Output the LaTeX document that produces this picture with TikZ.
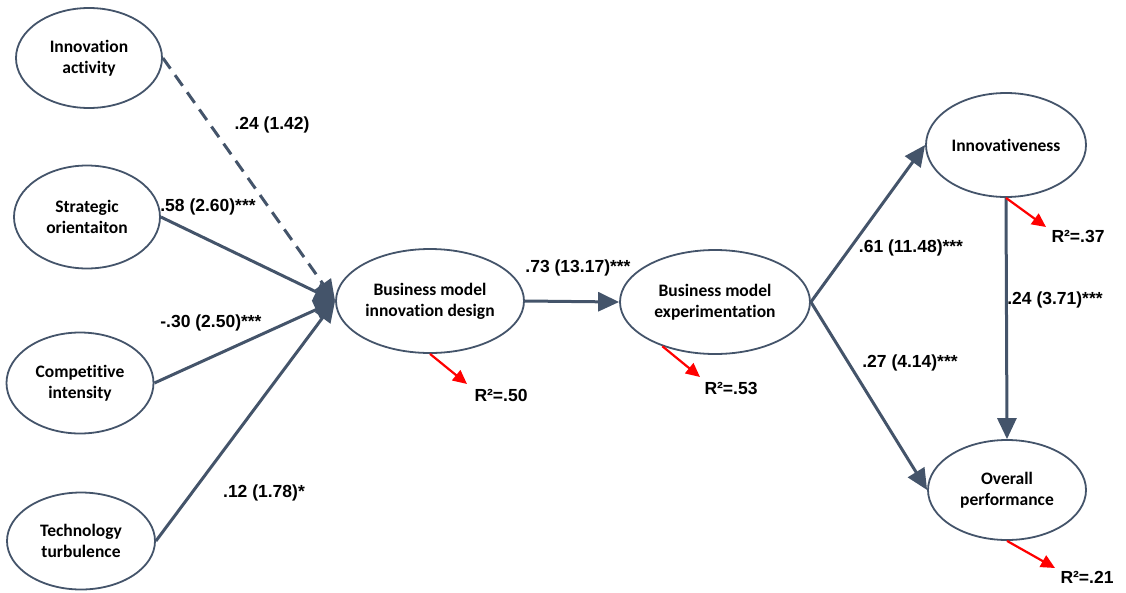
\documentclass[tikz,border=0pt]{standalone}
\usepackage{fontspec}
\setmainfont{Carlito}[Ligatures={NoCommon}]
\newfontfamily\arialf{Liberation Sans}
\usetikzlibrary{shapes.geometric,arrows.meta}
\definecolor{slate}{HTML}{44546A}
\begin{document}
\begin{tikzpicture}[x=1pt,y=-1pt,
  latent/.style={ellipse,draw=slate,line width=1.8pt,fill=white,inner sep=0pt,
    align=center,font=\fontsize{17.5}{21}\selectfont\bfseries},
  path/.style={draw=slate,line width=3pt,-{Triangle[length=21pt,width=19pt]}},
  coef/.style={font=\arialf\fontsize{17.5}{20}\selectfont\bfseries,inner sep=0pt},
  rsq/.style={draw=red,line width=2.2pt,-{Triangle[length=14pt,width=13pt]}}]
\useasboundingbox (0,0) rectangle (1126,592);
% nodes
\node[latent,minimum width=146pt,minimum height=100pt] (ia) at (89,58) {Innovation\\activity};
\node[latent,minimum width=146pt,minimum height=103pt] (so) at (87,217) {Strategic\\orientaiton};
\node[latent,minimum width=147pt,minimum height=101pt] (ci) at (80,383) {Competitive\\intensity};
\node[latent,minimum width=148pt,minimum height=97pt] (tt) at (81,541) {Technology\\turbulence};
\node[latent,minimum width=188pt,minimum height=104pt] (bmid) at (430,301) {Business model\\innovation design};
\node[latent,minimum width=190pt,minimum height=104pt] (bme) at (715,302) {Business model\\experimentation};
\node[latent,minimum width=160pt,minimum height=104pt] (inn) at (1006,145) {Innovativeness};
\node[latent,minimum width=158pt,minimum height=100pt] (op) at (1007,490) {Overall\\performance};
% coefficient labels
\node[coef] (l1) at (272,125) {.24 (1.42)};
\node[coef] (l2) at (208,207) {.58 (2.60)***};
\node[coef] (l3) at (211,323) {-.30 (2.50)***};
\node[coef] (l4) at (264,493) {.12 (1.78)*};
\node[coef] (l5) at (578,268) {.73 (13.17)***};
\node[coef] (l6) at (911,248) {.61 (11.48)***};
\node[coef] (l7) at (1055,300) {.24 (3.71)***};
\node[coef] (l8) at (910,363) {.27 (4.14)***};
% R squared labels
\node[coef] (r1) at (501,395) {R²=.50};
\node[coef] (r2) at (731,388) {R²=.53};
\node[coef] (r3) at (1078,236) {R²=.37};
\node[coef] (r4) at (1087,577) {R²=.21};
\coordinate (t1) at (467,384);
\coordinate (t2) at (700,377);
\coordinate (t3) at (1046,227);
\coordinate (t4) at (1055,568);
% paths
\draw[path,dash pattern=on 13pt off 8pt] (ia.east) -- (bmid.west);
\draw[path] (so.east) -- (bmid.west);
\draw[path] (ci.east) -- (bmid.west);
\draw[path] (tt.east) -- (bmid.west);
\draw[path] (bmid.east) -- (bme.west);
\draw[path] (bme.east) -- (inn.west);
\draw[path] (bme.east) -- (op.west);
\draw[path] (inn.south) -- (op.north);
% R squared arrows
\draw[rsq] (bmid.south) -- (t1);
\draw[rsq] (bme.220) -- (t2);
\draw[rsq] (inn.south) -- (t3);
\draw[rsq] (op.south) -- (t4);
\end{tikzpicture}
\end{document}
